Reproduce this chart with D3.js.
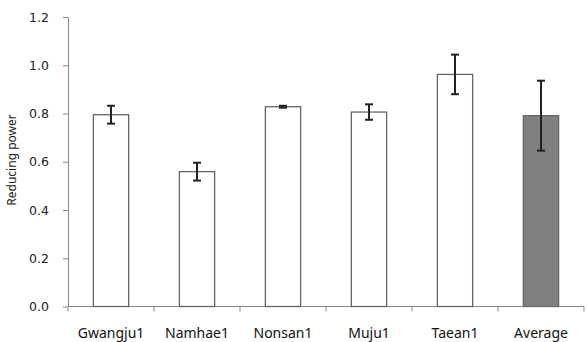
<!DOCTYPE html>
<html><head><meta charset="utf-8">
<script src="https://cdn.jsdelivr.net/npm/d3@7/dist/d3.min.js"></script>
<style>body{margin:0;background:#fff}</style>
</head><body>
<svg id="c" width="587" height="342"></svg>
<script>
const categories = ["Gwangju1","Namhae1","Nonsan1","Muju1","Taean1","Average"];
const values = [0.795, 0.559, 0.828, 0.806, 0.962, 0.791];
const errors = [0.037, 0.037, 0.004, 0.032, 0.082, 0.145];
const fills = ["#ffffff","#ffffff","#ffffff","#ffffff","#ffffff","#808080"];
const yTicks = [0,0.2,0.4,0.6,0.8,1.0,1.2];

const svg = d3.select("#c");
const x = d3.scaleBand().domain(categories).range([68,584]).paddingInner(0.59).paddingOuter(0.295);
const y = d3.scaleLinear().domain([0,1.2]).range([306.5,17]);

// y axis
const ya = svg.append("g").attr("transform","translate(68,0)")
  .call(d3.axisLeft(y).tickValues(yTicks).tickFormat(d3.format(".1f")).tickSize(5).tickSizeOuter(0));
ya.select(".domain").attr("stroke","#888");
ya.selectAll(".tick line").attr("stroke","#888");
ya.selectAll(".tick text").attr("font-family","DejaVu Sans").attr("font-size",12.5).attr("fill","#222").attr("x",-19);

// x axis
const xa = svg.append("g").attr("transform","translate(0,306.5)");
xa.append("line").attr("x1",68).attr("x2",584).attr("stroke","#888");
const bounds = categories.map(c => x(c) - x.step()*x.paddingInner()/2);
bounds.push(584);
xa.selectAll("line.tk").data(bounds).enter().append("line").attr("class","tk")
  .attr("x1",d=>d).attr("x2",d=>d).attr("y1",0).attr("y2",5).attr("stroke","#888");
xa.selectAll("text").data(categories).enter().append("text")
  .attr("x",d=>x(d)+x.bandwidth()/2).attr("y",31.5).attr("text-anchor","middle")
  .attr("font-family","Noto Sans").attr("font-size",14).attr("fill","#111").text(d=>d);

// bars
svg.selectAll("rect.bar").data(categories).enter().append("rect").attr("class","bar")
  .attr("x",d=>x(d)).attr("width",x.bandwidth())
  .attr("y",(d,i)=>y(values[i])).attr("height",(d,i)=>y(0)-y(values[i]))
  .attr("fill",(d,i)=>fills[i]).attr("stroke","#666").attr("stroke-width",1.3);

// error bars
const eg = svg.append("g").attr("stroke","#222").attr("stroke-width",2);
categories.forEach((c,i)=>{
  const cx = x(c)+x.bandwidth()/2;
  const t = y(values[i]+errors[i]), b = y(values[i]-errors[i]);
  eg.append("line").attr("x1",cx).attr("x2",cx).attr("y1",t).attr("y2",b);
  eg.append("line").attr("x1",cx-4).attr("x2",cx+4).attr("y1",t).attr("y2",t);
  eg.append("line").attr("x1",cx-4).attr("x2",cx+4).attr("y1",b).attr("y2",b);
});

// y label
svg.append("text").attr("transform","translate(16,160) rotate(-90)").attr("text-anchor","middle")
  .attr("font-family","Noto Sans").attr("font-size",12).attr("fill","#222").text("Reducing power");
</script>
</body></html>
